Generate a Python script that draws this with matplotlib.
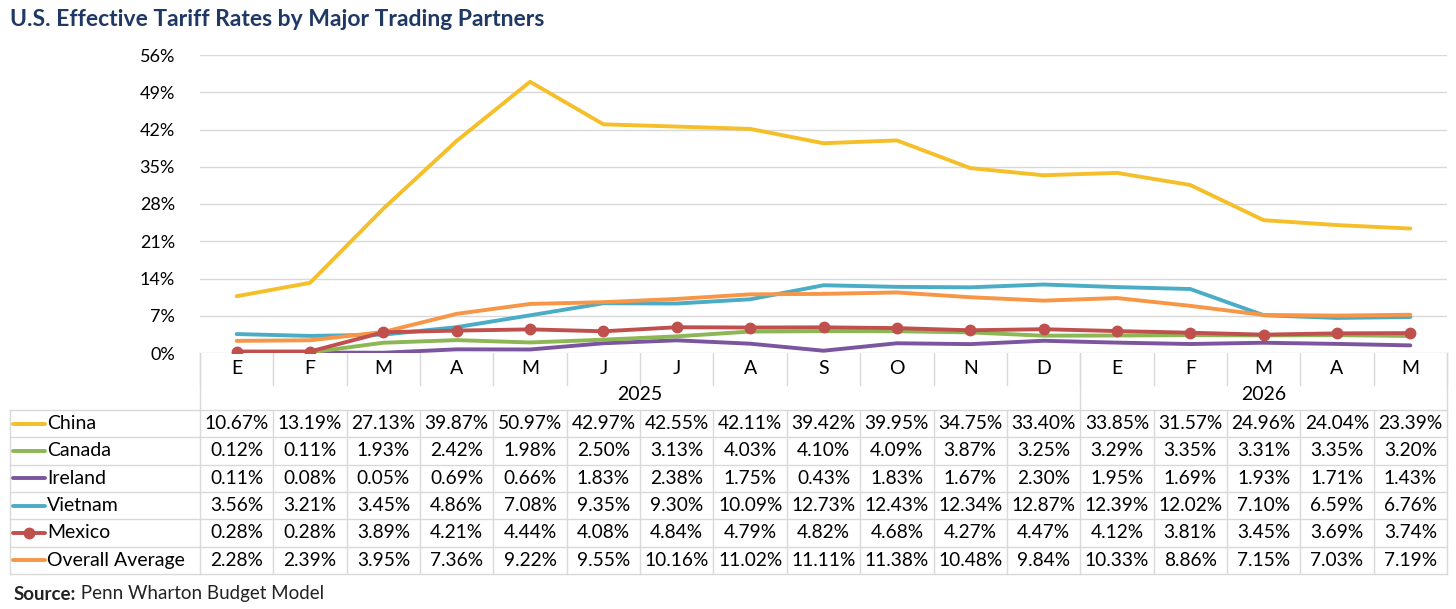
import numpy as np
import matplotlib
matplotlib.use("Agg")
import matplotlib.pyplot as plt

plt.rcParams['font.family'] = ['Lato', 'DejaVu Sans']

# 月份和年份
months = ["E", "F", "M", "A", "M", "J", "J", "A", "S", "O", "N", "D",
          "E", "F", "M", "A", "M"]
years = ["2025", "2026"]
year_span = [12, 5]  # 每个年份下的月数

# 各国有效关税率 (%)
china = [10.67, 13.19, 27.13, 39.87, 50.97, 42.97, 42.55, 42.11, 39.42, 39.95,
         34.75, 33.40, 33.85, 31.57, 24.96, 24.04, 23.39]
canada = [0.12, 0.11, 1.93, 2.42, 1.98, 2.50, 3.13, 4.03, 4.10, 4.09,
          3.87, 3.25, 3.29, 3.35, 3.31, 3.35, 3.20]
ireland = [0.11, 0.08, 0.05, 0.69, 0.66, 1.83, 2.38, 1.75, 0.43, 1.83,
           1.67, 2.30, 1.95, 1.69, 1.93, 1.71, 1.43]
vietnam = [3.56, 3.21, 3.45, 4.86, 7.08, 9.35, 9.30, 10.09, 12.73, 12.43,
           12.34, 12.87, 12.39, 12.02, 7.10, 6.59, 6.76]
mexico = [0.28, 0.28, 3.89, 4.21, 4.44, 4.08, 4.84, 4.79, 4.82, 4.68,
          4.27, 4.47, 4.12, 3.81, 3.45, 3.69, 3.74]
overall = [2.28, 2.39, 3.95, 7.36, 9.22, 9.55, 10.16, 11.02, 11.11, 11.38,
           10.48, 9.84, 10.33, 8.86, 7.15, 7.03, 7.19]

series = [
    ("China", china, "#F5BF2A", False),
    ("Canada", canada, "#8DB654", False),
    ("Ireland", ireland, "#7B559E", False),
    ("Vietnam", vietnam, "#4BACC6", False),
    ("Mexico", mexico, "#C0504D", True),
    ("Overall Average", overall, "#F79646", False),
]
# 绘制顺序 (后画的在上面)
draw_order = ["Ireland", "Canada", "Vietnam", "Overall Average", "Mexico", "China"]

W, H = 1456, 609
x0, x1 = 200, 1447          # 表格列区域
y_top, y_zero = 55, 353     # 图区域
tab_top, tab_bot = 410, 574
grid_c = "#D9D9D9"

fig = plt.figure(figsize=(W / 100, H / 100), dpi=100)

ax = fig.add_axes([x0 / W, (H - y_zero) / H, (x1 - x0) / W, (y_zero - y_top) / H])
n = len(months)
xs = np.arange(n)
for name, vals, color, marker in sorted(series, key=lambda s: draw_order.index(s[0])):
    ax.plot(xs, vals, color=color, lw=2.8, solid_capstyle="round",
            marker="o" if marker else None, markersize=7.5, zorder=3)
ax.set_xlim(-0.5, n - 0.5)
ax.set_ylim(0, 56)
ax.set_yticks(np.arange(0, 57, 7))
ax.set_yticklabels([f"{v}%" for v in range(0, 57, 7)], fontsize=13)
ax.yaxis.grid(True, color=grid_c, lw=1)
ax.set_xticks([])
ax.tick_params(axis="y", length=0, pad=18)
for s in ax.spines.values():
    s.set_visible(False)

# 表格层, 像素坐标
tb = fig.add_axes([0, 0, 1, 1], zorder=-1)
tb.set_xlim(0, W)
tb.set_ylim(H, 0)
tb.axis("off")

cw = (x1 - x0) / n
row_h = (tab_bot - tab_top) / len(series)

# 月份和年份表头
for i, m in enumerate(months):
    tb.text(x0 + cw * (i + 0.5), 368, m, ha="center", va="center", fontsize=14)
for i in range(n + 1):
    xx = x0 + cw * i
    tb.plot([xx, xx], [y_zero, 385], color=grid_c, lw=1)
start = 0
for yr, span in zip(years, year_span):
    tb.text(x0 + cw * (start + span / 2), 395, yr, ha="center", va="center", fontsize=14)
    start += span
for b in np.cumsum([0] + year_span):
    xx = x0 + cw * b
    tb.plot([xx, xx], [y_zero, tab_top], color=grid_c, lw=1)

# 数据表
lx0 = 10
for r in range(len(series) + 1):
    yy = tab_top + r * row_h
    tb.plot([lx0, x1], [yy, yy], color=grid_c, lw=1)
tb.plot([lx0, lx0], [tab_top, tab_bot], color=grid_c, lw=1)
for i in range(n + 1):
    xx = x0 + cw * i
    tb.plot([xx, xx], [tab_top, tab_bot], color=grid_c, lw=1)

for r, (name, vals, color, marker) in enumerate(series):
    yc = tab_top + (r + 0.5) * row_h
    tb.plot([13, 45], [yc, yc], color=color, lw=2.8, solid_capstyle="round")
    if marker:
        tb.plot([29], [yc], marker="o", color=color, markersize=7.5)
    tb.text(47, yc, name, ha="left", va="center", fontsize=14)
    for i, v in enumerate(vals):
        tb.text(x0 + cw * (i + 0.5), yc, f"{v:.2f}%", ha="center", va="center", fontsize=13.8)

# 标题和来源
fig.text(10 / W, 1 - 20 / H, "U.S. Effective Tariff Rates by Major Trading Partners",
         ha="left", va="center", fontsize=16.5, fontweight="bold", color="#1F3864")
src = fig.text(14 / W, 1 - 594 / H, "Source:", ha="left", va="center",
               fontsize=13.5, fontweight="bold", color="#222222")
fig.canvas.draw()
bb = src.get_window_extent()
fig.text(bb.x1 / W, 1 - 594 / H, " Penn Wharton Budget Model", ha="left", va="center",
         fontsize=13.5, color="#222222")

fig.savefig("out.png", dpi=100)
